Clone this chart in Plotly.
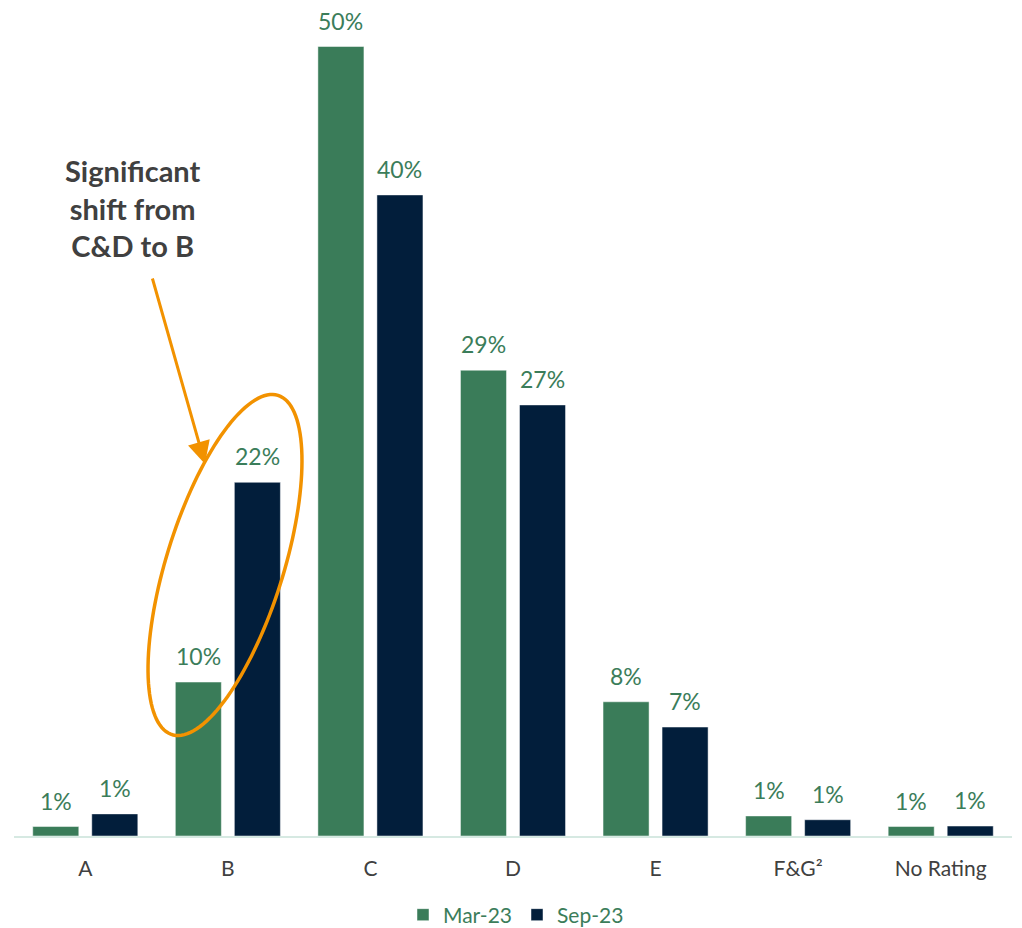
import numpy as np
import plotly.graph_objects as go

categories = ["A", "B", "C", "D", "E", "F&G²", "No Rating"]
mar23_values = [0.6, 9.75, 50.0, 29.5, 8.5, 1.27, 0.6]
sep23_values = [1.4, 22.4, 40.6, 27.3, 6.9, 1.03, 0.63]
mar23_labels = ["1%", "10%", "50%", "29%", "8%", "1%", "1%"]
sep23_labels = ["1%", "22%", "40%", "27%", "7%", "1%", "1%"]
series_names = ["Mar-23", "Sep-23"]

GREEN = "#3A7C59"
NAVY = "#021E3B"
LABEL = "#3B7D5A"
ORANGE = "#F29200"
FONT = "Lato, 'Noto Sans', sans-serif"

# page body has an 8px default margin; figure is sized to fit inside the window
OFF = 8
W, H = 1014, 920
ML, MR, MT, MB = 6, 10, 2, 92
PW, PH = W - ML - MR, H - MT - MB
BARGAP, GROUPGAP = 0.172, 0.22


def px2paper(sx, sy):
    """screen pixel -> paper coordinates"""
    return (sx - OFF - ML) / PW, (H - MB - (sy - OFF)) / PH


fig = go.Figure()
for name, vals, color in [(series_names[0], mar23_values, GREEN),
                          (series_names[1], sep23_values, NAVY)]:
    fig.add_trace(go.Bar(
        x=categories, y=vals, name=name,
        marker=dict(color=color, line=dict(color="rgba(255,255,255,0.6)", width=0.8)),
        hoverinfo="x+y",
    ))

# data labels above each bar
slot = PW / len(categories) * (1 - BARGAP) / 2
for labels, vals, sign in [(mar23_labels, mar23_values, -1), (sep23_labels, sep23_values, 1)]:
    for cat, v, lab in zip(categories, vals, labels):
        fig.add_annotation(x=cat, y=v, xref="x", yref="y", text=lab,
                           showarrow=False, yanchor="bottom", xanchor="center",
                           xshift=sign * slot / 2, yshift=10,
                           font=dict(size=23, color=LABEL, family=FONT))

# Ellipse around the B group
cx, cy, a, b, phi = 225.0, 565.0, 177.7, 58.5, np.radians(17.35)
t = np.linspace(0, 2 * np.pi, 140)
u = np.array([np.sin(phi), -np.cos(phi)])
v = np.array([np.cos(phi), np.sin(phi)])
pts = [px2paper(cx + a * np.cos(tt) * u[0] + b * np.sin(tt) * v[0],
                cy + a * np.cos(tt) * u[1] + b * np.sin(tt) * v[1]) for tt in t]
path = "M " + " L ".join(f"{x:.5f},{y:.5f}" for x, y in pts) + " Z"
fig.add_shape(type="path", path=path, xref="paper", yref="paper",
              line=dict(color=ORANGE, width=3.5))

# Arrow
tip = px2paper(205, 464)
fig.add_annotation(x=tip[0], y=tip[1], xref="paper", yref="paper",
                   ax=152 - 205, ay=277 - 464, axref="pixel", ayref="pixel",
                   showarrow=True, arrowhead=2, arrowsize=1.5, arrowwidth=3,
                   arrowcolor=ORANGE, text="")

# Callout text
tpos = px2paper(133, 208)
fig.add_annotation(x=tpos[0], y=tpos[1], xref="paper", yref="paper",
                   xanchor="center", yanchor="middle",
                   text="<b>Significant<br>shift from<br>C&D to B</b>",
                   showarrow=False, align="center",
                   font=dict(size=29, color="#404040", family=FONT))

leg = px2paper(516, 915)
fig.update_layout(
    width=W, height=H,
    margin=dict(l=ML, r=MR, t=MT, b=MB, autoexpand=False),
    plot_bgcolor="white", paper_bgcolor="white",
    barmode="group", bargap=BARGAP, bargroupgap=GROUPGAP,
    font=dict(family=FONT, color="#404040"),
    showlegend=True,
    legend=dict(orientation="h", x=leg[0], xanchor="center",
                y=leg[1], yanchor="middle",
                font=dict(size=21, color=LABEL, family=FONT),
                itemwidth=30, traceorder="normal"),
    xaxis=dict(showline=True, linecolor="#D6E9E2", linewidth=2,
               ticks="outside", ticklen=13, tickcolor="rgba(0,0,0,0)",
               tickfont=dict(size=21, color="#404040", family=FONT),
               showgrid=False, fixedrange=True),
    yaxis=dict(range=[0, PH / 15.79], visible=False, showgrid=False,
               zeroline=False, fixedrange=True),
)

fig.write_html("out.html")
